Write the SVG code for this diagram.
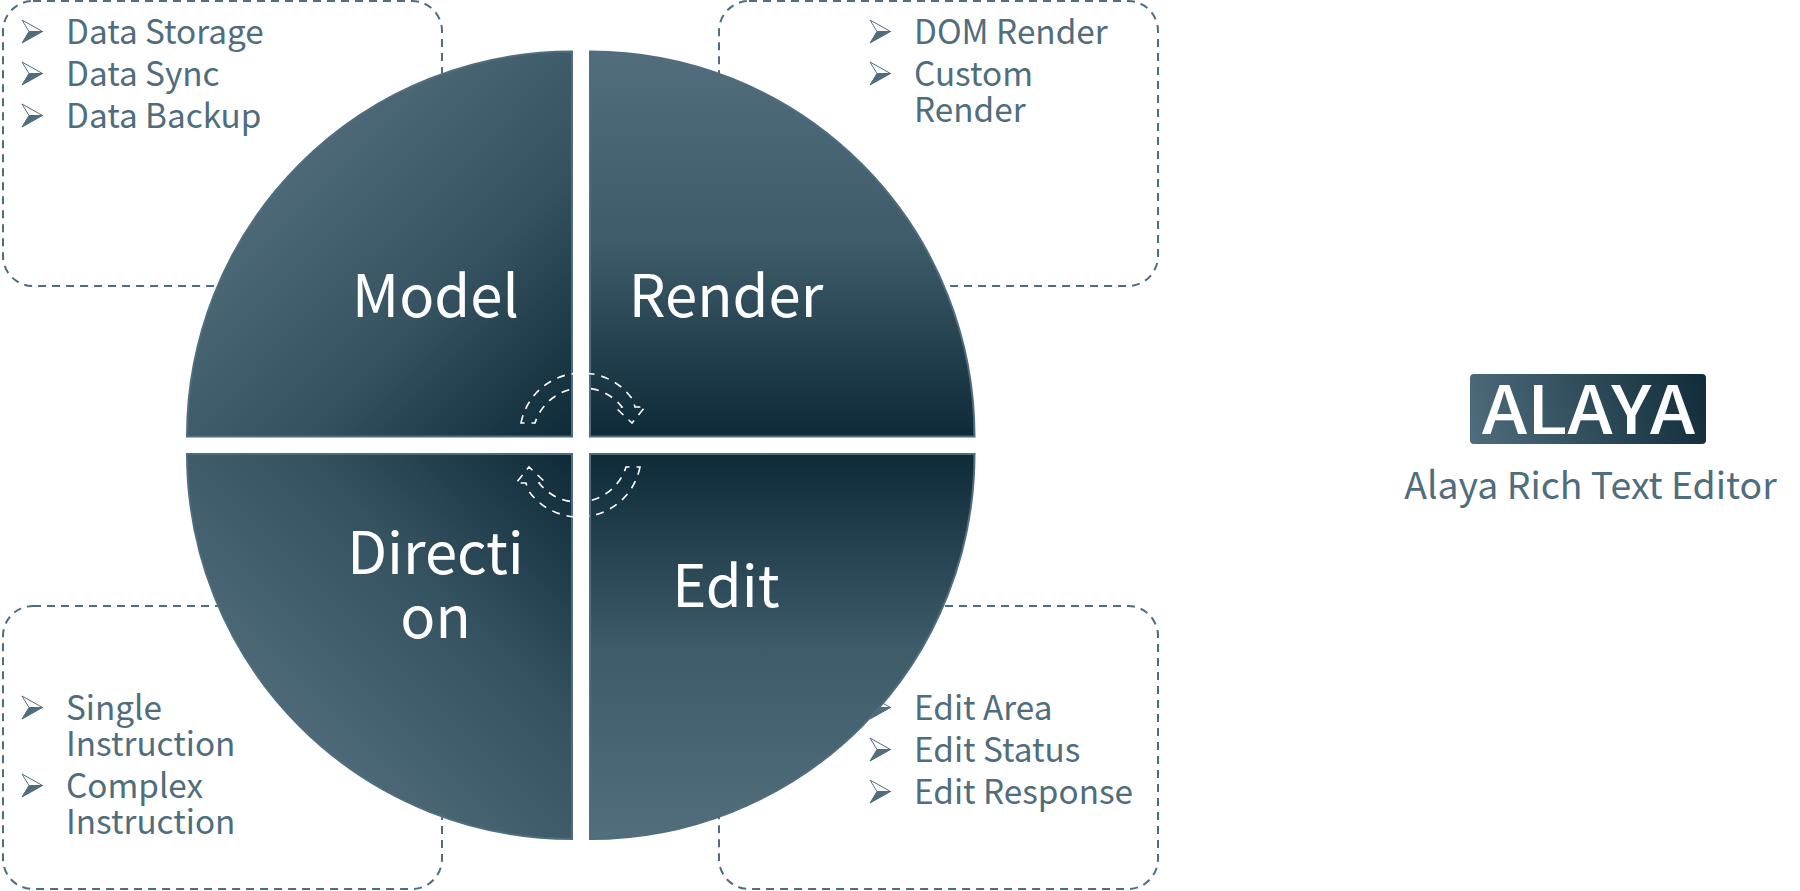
<svg xmlns="http://www.w3.org/2000/svg" xmlns:xlink="http://www.w3.org/1999/xlink" width="1800" height="891" viewBox="0 0 1800 891">
<style>
text{font-family:"Noto Sans CJK SC","Noto Sans",sans-serif}
.box{fill:#fff;stroke:#4f6d7c;stroke-width:2;stroke-dasharray:8 6}
.item{font-size:33.3px;fill:#4f6d7c}
.label{font-size:58px;fill:#fff;text-anchor:middle}
.pie{stroke:#4f6d7c;stroke-width:2}
.flow{fill:none;stroke:#fff;stroke-width:1.6;stroke-dasharray:8 7}
</style>
<defs>
<linearGradient id="gTL" gradientUnits="userSpaceOnUse" x1="300" y1="165" x2="572" y2="437"><stop offset="0" stop-color="#4d6977"/><stop offset=".5" stop-color="#355260"/><stop offset="1" stop-color="#0e2a39"/></linearGradient>
<linearGradient id="gTR" gradientUnits="userSpaceOnUse" x1="589" y1="50" x2="589" y2="437"><stop offset="0" stop-color="#526e7d"/><stop offset=".5" stop-color="#3e5b69"/><stop offset="1" stop-color="#0e2a39"/></linearGradient>
<linearGradient id="gBL" gradientUnits="userSpaceOnUse" x1="300" y1="725" x2="572" y2="453"><stop offset="0" stop-color="#4d6977"/><stop offset=".5" stop-color="#355260"/><stop offset="1" stop-color="#0e2a39"/></linearGradient>
<linearGradient id="gBR" gradientUnits="userSpaceOnUse" x1="589" y1="840" x2="589" y2="453"><stop offset="0" stop-color="#526e7d"/><stop offset=".5" stop-color="#3e5b69"/><stop offset="1" stop-color="#0e2a39"/></linearGradient>
<linearGradient id="gLogo" gradientUnits="userSpaceOnUse" x1="1470" y1="443" x2="1706" y2="374"><stop offset="0" stop-color="#4f6d7c"/><stop offset="1" stop-color="#102c3b"/></linearGradient>
<g id="bullet"><path d="M0,0 L20.500,11.500 L7,11.500 Z" fill="#fff" stroke="#4f6d7c" stroke-width="1"/><path d="M7,11.500 L20.500,11.500 L0,23 Z" fill="#4f6d7c" stroke="#4f6d7c" stroke-width="1"/></g>
</defs>
<g id="box-model">
<rect class="box" x="3" y="1" width="439" height="285" rx="30"/>
<use xlink:href="#bullet" href="#bullet" x="22" y="20"/><text class="item" x="66" y="44">Data Storage</text>
<use xlink:href="#bullet" href="#bullet" x="22" y="62"/><text class="item" x="66" y="86">Data Sync</text>
<use xlink:href="#bullet" href="#bullet" x="22" y="104"/><text class="item" x="66" y="128">Data Backup</text>
</g>
<g id="box-render">
<rect class="box" x="719" y="1" width="439" height="285" rx="30"/>
<use xlink:href="#bullet" href="#bullet" x="870" y="20"/><text class="item" x="914" y="44">DOM Render</text>
<use xlink:href="#bullet" href="#bullet" x="870" y="62"/><text class="item" x="914" y="86">Custom</text>
<text class="item" x="914" y="122">Render</text>
</g>
<g id="box-direction">
<rect class="box" x="3" y="606" width="439" height="283" rx="30"/>
<use xlink:href="#bullet" href="#bullet" x="22" y="696"/><text class="item" x="66" y="720">Single</text>
<text class="item" x="66" y="756">Instruction</text>
<use xlink:href="#bullet" href="#bullet" x="22" y="774"/><text class="item" x="66" y="798">Complex</text>
<text class="item" x="66" y="834">Instruction</text>
</g>
<g id="box-edit">
<rect class="box" x="719" y="606" width="439" height="283" rx="30"/>
<use xlink:href="#bullet" href="#bullet" x="870" y="696"/><text class="item" x="914" y="720">Edit Area</text>
<use xlink:href="#bullet" href="#bullet" x="870" y="738"/><text class="item" x="914" y="762">Edit Status</text>
<use xlink:href="#bullet" href="#bullet" x="870" y="780"/><text class="item" x="914" y="804">Edit Response</text>
</g>
<g id="node-model">
<path class="pie" d="M572,436.500 L187,436.500 A385,385 0 0 1 572,51.500 Z" fill="url(#gTL)"/>
<text class="label" x="435.500" y="317">Model</text>
</g>
<g id="node-render">
<path class="pie" d="M590,436.500 L974.500,436.500 A384.500,385 0 0 0 590,51.500 Z" fill="url(#gTR)"/>
<text class="label" x="726" y="317">Render</text>
</g>
<g id="node-direction">
<path class="pie" d="M572,454 L187,454 A385,385 0 0 0 572,839 Z" fill="url(#gBL)"/>
<text class="label" x="435.500" y="573.500">Directi</text>
<text class="label" x="435.500" y="638">on</text>
</g>
<g id="node-edit">
<path class="pie" d="M590,454 L974.500,454 A384.500,385 0 0 1 590,839 Z" fill="url(#gBR)"/>
<text class="label" x="726" y="607">Edit</text>
</g>
<g id="connectors">
<path id="flow-top" class="flow" d="M521,423 A62,62 0 0 1 633,400 L635,407 L645,407 L632,423 L616,408 L622,407 A50,50 0 0 0 535,423 Z"/>
<path id="flow-bottom" class="flow" transform="rotate(180 580.500 445)" d="M521,423 A62,62 0 0 1 633,400 L635,407 L645,407 L632,423 L616,408 L622,407 A50,50 0 0 0 535,423 Z"/>
</g>
<g id="logo">
<rect x="1470" y="374" width="236" height="70" rx="4" fill="url(#gLogo)"/>
<text x="1482" y="434" font-size="67" font-weight="500" fill="#fff" textLength="213" lengthAdjust="spacingAndGlyphs">ALAYA</text>
<text x="1590.500" y="499" font-size="37.400" fill="#4f6d7c" text-anchor="middle">Alaya Rich Text Editor</text>
</g>
</svg>
